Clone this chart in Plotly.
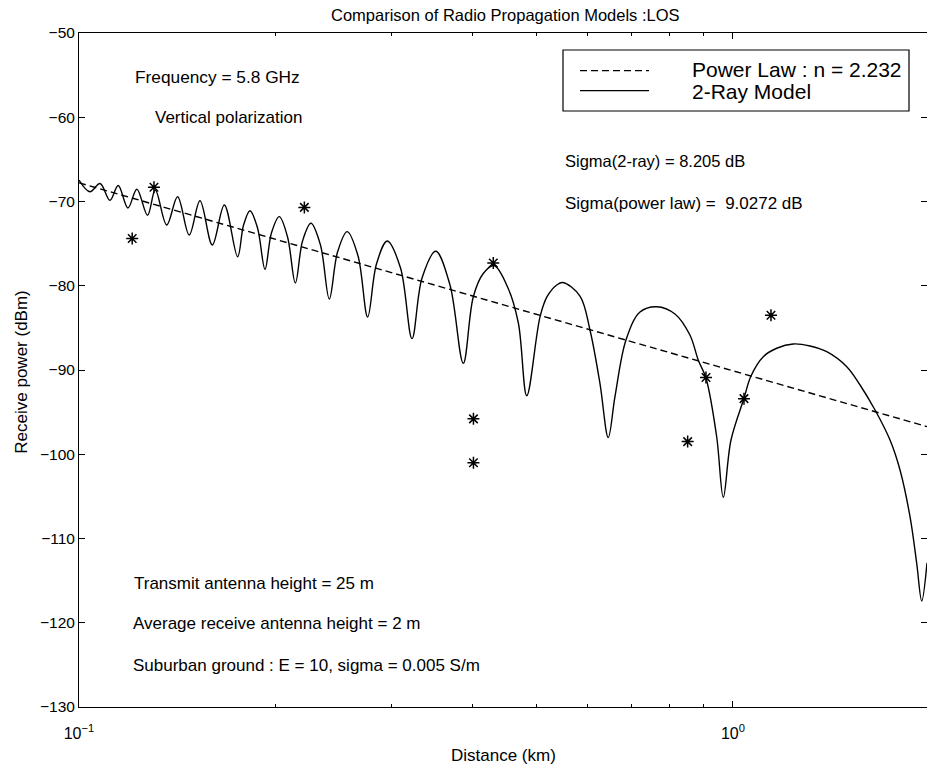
import numpy as np
import plotly.graph_objects as go

# 2-ray model prediction: distance (km) and received power (dBm)
ray_distance_km = [
    0.1000, 0.1039, 0.1077, 0.1115, 0.1148, 0.1188, 0.1226, 0.1273, 0.1308, 0.1362,
    0.1415, 0.1474, 0.1531, 0.1599, 0.1668, 0.1748,
    0.1785, 0.1826, 0.1875, 0.1925,
    0.1969, 0.2024, 0.2084, 0.2142,
    0.2197, 0.2263, 0.2340, 0.2414,
    0.2485, 0.2571, 0.2671, 0.2763,
    0.2850, 0.2960, 0.3102, 0.3230,
    0.3346, 0.3512, 0.3692, 0.3869,
    0.4008, 0.4151, 0.4311, 0.4529, 0.4697, 0.4838,
    0.5070, 0.5196, 0.5377, 0.5493, 0.5835, 0.6044, 0.6260, 0.6446,
    0.6600, 0.6861, 0.7208, 0.7643, 0.8152, 0.8593, 0.8848, 0.9092, 0.9443, 0.9664,
    0.9930, 1.0395, 1.0654, 1.1126, 1.1663, 1.2365, 1.3116, 1.3910, 1.4926, 1.5642,
    1.6490, 1.7383, 1.8006, 1.8651, 1.9095, 1.9435, 1.9801,
]
ray_power_dbm = [
    -67.45, -68.84, -67.86, -69.86, -68.10, -70.77, -68.54, -71.64, -68.64, -72.79,
    -69.43, -73.98, -69.91, -75.16, -70.42, -76.55,
    -72.79, -71.09, -73.15, -78.05,
    -73.74, -71.80, -74.21, -79.67,
    -74.69, -72.59, -75.16, -81.57,
    -76.00, -73.58, -76.47, -83.71,
    -77.42, -74.69, -77.89, -86.28,
    -79.08, -75.91, -79.91, -89.20,
    -81.30, -78.55, -77.60, -80.27, -84.42, -93.06,
    -83.67, -81.30, -79.91, -79.61, -81.22, -85.25, -91.58, -98.01,
    -93.17, -86.44, -83.12, -82.49, -83.35, -85.85, -88.81, -90.95, -97.95, -105.11,
    -98.31, -93.36, -90.71, -88.42, -87.42, -86.91, -87.15, -87.83, -89.61, -91.78,
    -94.75, -98.31, -101.87, -107.41, -112.94, -117.42, -112.90,
]

# Measured received power
meas_distance_km = [0.1206, 0.1302, 0.2211, 0.4300, 0.4010, 0.4010, 0.8525, 0.9093, 1.0395, 1.1431]
meas_power_dbm = [-74.4, -68.3, -70.7, -77.3, -95.8, -101.0, -98.5, -90.9, -93.4, -83.5]

# Power-law fit: P(d) = P(1 km) - 10 n log10(d)
path_loss_exponent = 2.232
power_at_1km_dbm = -90.1
fit_distance_km = [0.1, 1.98]
fit_power_dbm = [power_at_1km_dbm - 10 * path_loss_exponent * np.log10(d) for d in fit_distance_km]

x_major = [0.1, 1.0]
x_major_text = ["10<sup>−1</sup>", "10<sup>0</sup>"]
x_minor = [0.2, 0.3, 0.4, 0.5, 0.6, 0.7, 0.8, 0.9, 2.0]
y_ticks = [-130, -120, -110, -100, -90, -80, -70, -60, -50]

W, H = 927, 769
L, R, T, B = 79, 927, 33, 707
FONT = "Liberation Sans, Arial, Helvetica, sans-serif"


def px(x):
    return (x - L) / (R - L)


def py(y):
    return (B - y) / (B - T)


fig = go.Figure()
fig.add_trace(go.Scatter(
    x=fit_distance_km, y=fit_power_dbm, mode="lines",
    line=dict(color="black", width=1.4, dash="7px,4px"), name="Power Law",
))
fig.add_trace(go.Scatter(
    x=ray_distance_km, y=ray_power_dbm, mode="lines",
    line=dict(color="black", width=1.4, shape="spline", smoothing=1.0), name="2-Ray Model",
))
fig.add_trace(go.Scatter(
    x=meas_distance_km, y=meas_power_dbm, mode="markers",
    marker=dict(symbol="asterisk-open", size=10, color="black", line=dict(width=1.5, color="black")),
    name="Measured",
))

annotations = []


def text(x, y, s, size=17, anchor="left", **kw):
    annotations.append(dict(
        x=px(x), y=py(y), xref="paper", yref="paper", text=s, showarrow=False,
        xanchor=anchor, yanchor="middle", font=dict(family=FONT, size=size, color="black"), **kw,
    ))


text(133, 77, "Frequency = 5.8 GHz", size=17.3)
text(153, 118, "Vertical polarization")
text(563, 161, "Sigma(2-ray) = 8.205 dB", size=16.5)
text(563, 203, "Sigma(power law) =  9.0272 dB")
text(132, 583, "Transmit antenna height = 25 m")
text(131, 623, "Average receive antenna height = 2 m")
text(131, 665, "Suburban ground : E = 10, sigma = 0.005 S/m")

# legend box contents
text(690, 69.5, "Power Law : n = 2.232", size=21)
text(690, 92, "2-Ray Model", size=21)

# axis titles and figure title
text(503, 755, "Distance (km)", anchor="center")
text(20.7, 372, "Receive power (dBm)", anchor="center", textangle=-90)
text(505, 15, "Comparison of Radio Propagation Models :LOS", size=16.5, anchor="center")

shapes = [
    dict(type="rect", xref="paper", yref="paper", x0=px(563), x1=px(909), y0=py(111), y1=py(50),
         line=dict(color="black", width=1.2), fillcolor="white", layer="below"),
    dict(type="line", xref="paper", yref="paper", x0=px(580), x1=px(649), y0=py(70.7), y1=py(70.7),
         line=dict(color="black", width=1.3, dash="7px,4px")),
    dict(type="line", xref="paper", yref="paper", x0=px(580), x1=px(649), y0=py(90.7), y1=py(90.7),
         line=dict(color="black", width=1.3)),
]

fig.update_layout(
    width=W, height=H,
    margin=dict(l=L, r=W - R, t=T, b=H - B),
    paper_bgcolor="white", plot_bgcolor="white",
    showlegend=False,
    font=dict(family=FONT, size=15, color="black"),
    annotations=annotations,
    shapes=shapes,
    xaxis=dict(
        type="log", range=[-1, np.log10(1.98)],
        tickmode="array", tickvals=x_major, ticktext=x_major_text,
        ticks="inside", ticklen=6, tickcolor="black", ticklabelstandoff=12,
        minor=dict(tickmode="array", tickvals=x_minor, ticks="inside", ticklen=3, tickcolor="black", showgrid=False),
        showline=True, linecolor="black", linewidth=1, mirror="ticks",
        showgrid=False, zeroline=False,
        tickfont=dict(family=FONT, size=16, color="black"),
    ),
    yaxis=dict(
        range=[-130, -50], tickmode="array", tickvals=y_ticks,
        ticks="inside", ticklen=6, tickcolor="black",
        showline=True, linecolor="black", linewidth=1, mirror="ticks",
        showgrid=False, zeroline=False,
        tickfont=dict(family=FONT, size=15.5, color="black"),
    ),
)

fig.write_html("out.html")
